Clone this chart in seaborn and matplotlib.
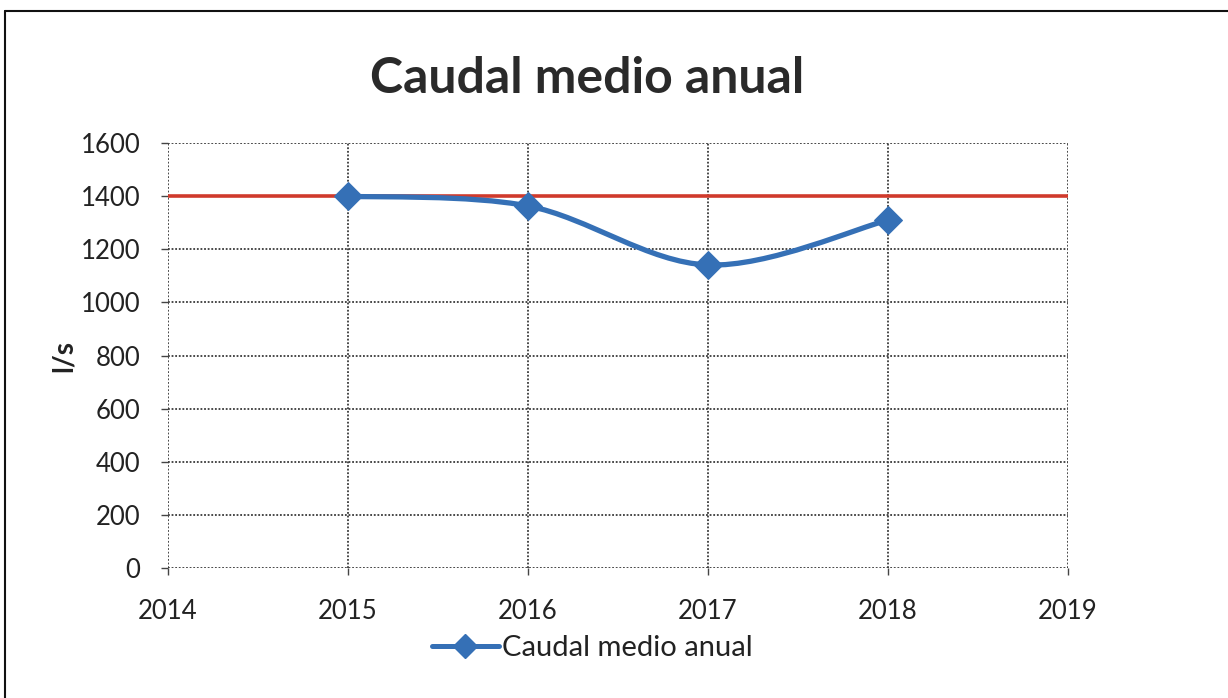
import matplotlib
matplotlib.use("Agg")
import matplotlib.pyplot as plt
import seaborn as sns
import pandas as pd
import numpy as np
from matplotlib.path import Path
from matplotlib.patches import PathPatch
from matplotlib.lines import Line2D

# Annual mean flow (l/s)
anios = [2015, 2016, 2017, 2018]
caudal = [1400, 1363, 1141, 1310]
# Reference flow level
referencia_x = [2014, 2019]
referencia_y = [1400, 1400]

x_ticks = [2014, 2015, 2016, 2017, 2018, 2019]
y_ticks = [0, 200, 400, 600, 800, 1000, 1200, 1400, 1600]

sns.set_theme(style="white")
plt.rcParams["font.family"] = ["Lato", "DejaVu Sans"]

fig = plt.figure(figsize=(12.28, 6.98), dpi=100)
ax = fig.add_axes([0.1368, 0.1862, 0.7329, 0.6089])

azul = "#3570B6"
rojo = "#D03A2C"

df = pd.DataFrame({"anio": anios, "caudal": caudal})
ref = pd.DataFrame({"x": referencia_x, "y": referencia_y})

# Reference level line
sns.lineplot(data=ref, x="x", y="y", ax=ax, color=rojo, lw=2.6, zorder=3, legend=False)

# Smoothed series line (Catmull-Rom style Bezier segments through the points)
pts = np.column_stack([df["anio"].to_numpy(float), df["caudal"].to_numpy(float)])
verts = [tuple(pts[0])]
codes = [Path.MOVETO]
n = len(pts)
for i in range(n - 1):
    p0 = pts[i - 1] if i > 0 else pts[i]
    p1 = pts[i]
    p2 = pts[i + 1]
    p3 = pts[i + 2] if i + 2 < n else pts[i + 1]
    c1 = p1 + (p2 - p0) / 6.0
    c2 = p2 - (p3 - p1) / 6.0
    verts += [tuple(c1), tuple(c2), tuple(p2)]
    codes += [Path.CURVE4] * 3
ax.add_patch(PathPatch(Path(verts, codes), fill=False, edgecolor=azul, lw=3.8,
                       zorder=4, capstyle="round", joinstyle="round"))

# Markers
sns.lineplot(data=df, x="anio", y="caudal", ax=ax, linestyle="none", marker="D",
             markersize=14, color=azul, markeredgecolor=azul, zorder=5, legend=False)

ax.set_xlim(2014, 2019)
ax.set_ylim(0, 1600)
ax.set_xticks(x_ticks)
ax.set_yticks(y_ticks)
ax.set_xticklabels([str(t) for t in x_ticks], fontsize=18.5, color="#222222")
ax.set_yticklabels([str(t) for t in y_ticks], fontsize=18.5, color="#222222")
ax.tick_params(axis="both", length=5, width=1, color="#444444", direction="out",
               bottom=True, left=True)
ax.tick_params(axis="y", pad=15)
ax.tick_params(axis="x", pad=17)

ax.grid(True, which="major", color="#3a3a3a", linestyle=(0, (1, 1)), lw=1.3)
ax.set_axisbelow(True)
for s in ax.spines.values():
    s.set_visible(False)

ax.set_xlabel("")
ax.set_ylabel("l/s", fontsize=20, fontweight="bold", color="#222222", labelpad=3)

fig.text(0.478, 0.888, "Caudal medio anual", ha="center", va="center",
         fontsize=36, fontweight="bold", color="#2a2a2a")

handle = Line2D([], [], color=azul, lw=3.6, marker="D", markersize=12,
                markeredgecolor=azul)
fig.legend([handle], ["Caudal medio anual"], loc="center", bbox_to_anchor=(0.482, 0.071),
           frameon=False, fontsize=21, handlelength=2.3, handletextpad=0.1,
           labelcolor="#222222")

# Page border
fig.add_artist(Line2D([0.004, 1.0], [0.984, 0.984], transform=fig.transFigure,
                      color="#111111", lw=1.5))
fig.add_artist(Line2D([0.004, 0.004], [0.0, 0.984], transform=fig.transFigure,
                      color="#111111", lw=1.5))

fig.savefig("out.png", dpi=100, facecolor="white")
